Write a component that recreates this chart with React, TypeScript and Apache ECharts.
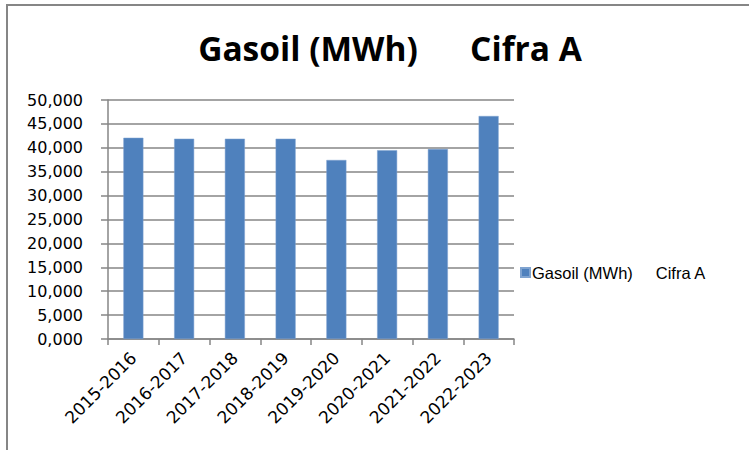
import React, { useEffect, useRef } from "react";
import * as echarts from "echarts";

const seriesName = "Gasoil (MWh)     Cifra A";
const titleText = "Gasoil (MWh)      Cifra A";
const categories = [
  "2015-2016",
  "2016-2017",
  "2017-2018",
  "2018-2019",
  "2019-2020",
  "2020-2021",
  "2021-2022",
  "2022-2023",
];
const values = [42100, 41900, 41900, 41900, 37450, 39500, 39750, 46650];
const yMin = 0;
const yMax = 50000;
const yInterval = 5000;

function fmt(v: number): string {
  const thousands = Math.floor(v / 1000);
  const rest = Math.round(v % 1000);
  return thousands + "," + String(rest).padStart(3, "0");
}

export default function App() {
  const ref = useRef<HTMLDivElement>(null);
  useEffect(() => {
    if (!ref.current) return;
    const chart = echarts.init(ref.current, undefined, { renderer: "svg" });
    const gray = "#868686";
    chart.setOption({
      animation: false,
      backgroundColor: "#ffffff",
      title: {
        text: titleText,
        left: 385,
        textAlign: "center",
        top: 26,
        textStyle: {
          fontFamily: "Open Sans",
          fontWeight: "bold",
          fontSize: 33.5,
          color: "#000000",
        },
      },
      graphic: [
        {
          type: "rect",
          shape: { x: 7, y: 5, width: 800, height: 500 },
          style: { fill: "none", stroke: gray, lineWidth: 2 },
          silent: true,
        },
      ],
      legend: {
        left: 515,
        top: 259,
        orient: "vertical",
        itemWidth: 9,
        itemHeight: 9,
        icon: "rect",
        itemGap: 4,
        textStyle: {
          fontFamily: "Liberation Sans",
          fontSize: 16.5,
          color: "#000000",
          padding: [0, 0, 0, -3],
        },
        data: [seriesName],
      },
      grid: {
        left: 108,
        top: 100,
        right: 235,
        bottom: 111,
        containLabel: false,
      },
      xAxis: {
        type: "category",
        data: categories,
        axisLine: { show: true, lineStyle: { color: gray, width: 1.5 } },
        axisTick: {
          show: true,
          interval: 0,
          alignWithLabel: false,
          length: 6,
          lineStyle: { color: gray, width: 1.5 },
        },
        axisLabel: {
          interval: 0,
          rotate: 45,
          margin: 16,
          fontFamily: "DejaVu Sans",
          fontSize: 17,
          color: "#000000",
        },
      },
      yAxis: {
        type: "value",
        min: yMin,
        max: yMax,
        interval: yInterval,
        axisLine: { show: true, lineStyle: { color: gray, width: 1.5 } },
        axisTick: {
          show: true,
          inside: false,
          length: 7,
          lineStyle: { color: gray, width: 1.5 },
        },
        splitLine: { show: true, lineStyle: { color: gray, width: 1.5 } },
        axisLabel: {
          margin: 25,
          fontFamily: "DejaVu Sans",
          fontSize: 16,
          color: "#000000",
          formatter: (v: number) => fmt(v),
        },
      },
      series: [
        {
          name: seriesName,
          type: "bar",
          data: values,
          barWidth: 20,
          itemStyle: { color: "#4F81BD", borderColor: "#7FA3D0", borderWidth: 0.5 },
        },
      ],
    });
    return () => chart.dispose();
  }, []);
  return (
    <div
      ref={ref}
      style={{ position: "fixed", left: 0, top: 0, width: 749, height: 450 }}
    />
  );
}
